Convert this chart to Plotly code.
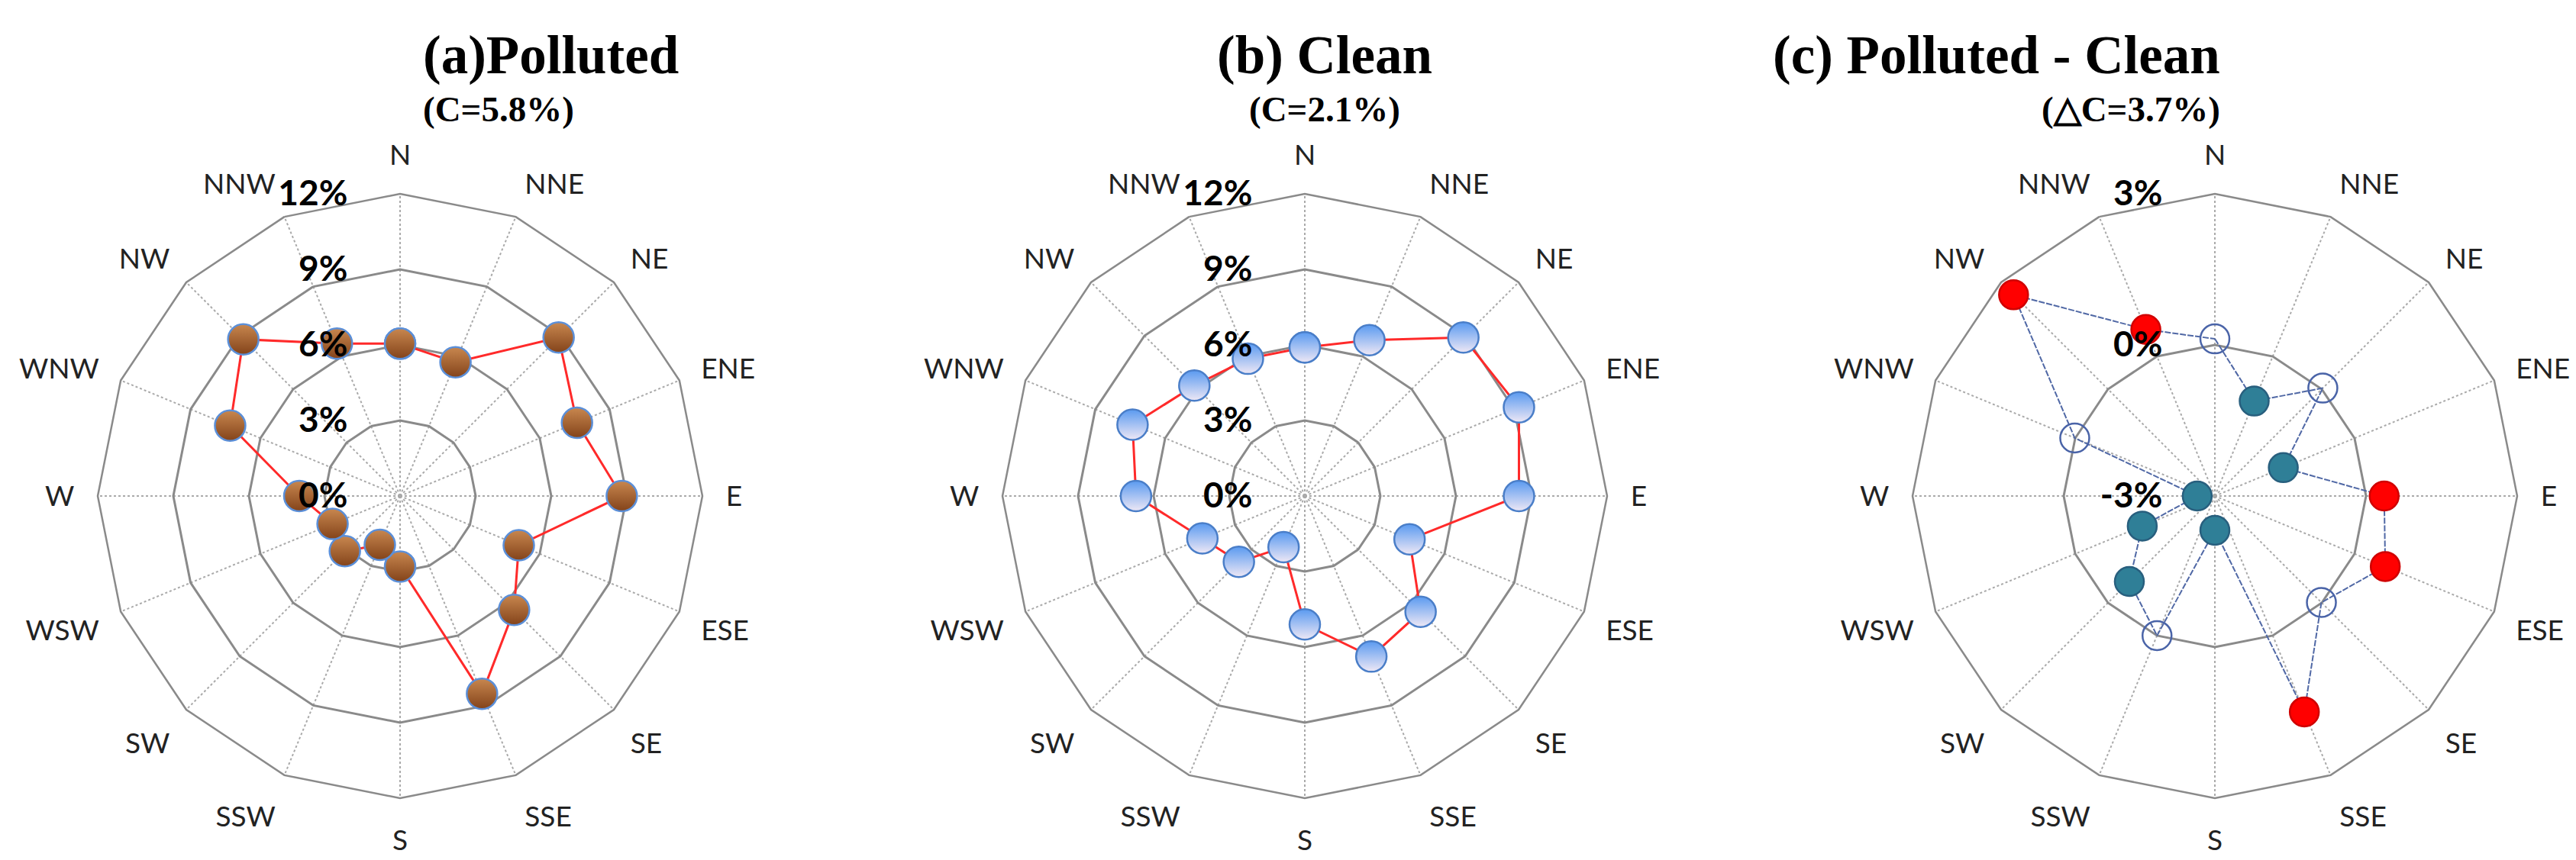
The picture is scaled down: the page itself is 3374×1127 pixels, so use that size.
import plotly.graph_objects as go

directions = ["N", "NNE", "NE", "ENE", "E", "ESE", "SE", "SSE",
              "S", "SSW", "SW", "WSW", "W", "WNW", "NW", "NNW"]

# frequency of each wind direction (%)
polluted = [6.05, 5.75, 8.9, 7.6, 8.8, 5.1, 6.4, 8.5,
            2.8, 2.1, 3.1, 2.9, 4.0, 7.3, 8.8, 6.55]
clean = [5.9, 6.7, 8.9, 9.2, 8.5, 4.5, 6.5, 6.9,
         5.1, 2.2, 3.7, 4.4, 6.7, 7.4, 6.2, 5.9]
diff = [0.12, -0.96, 0.03, -1.53, 0.36, 0.66, -0.01, 1.64,
        -2.32, 0.0, -0.6, -1.44, -2.65, 0.01, 2.65, 0.58]

ticks_ab = [0, 3, 6, 9, 12]
ticks_c = [-3, 0, 3]

titles = ["(a)Polluted", "(b) Clean", "(c) Polluted - Clean"]
subtitles = ["(C=5.8%)", "(C=2.1%)", "(△C=3.7%)"]

W, H = 3374, 1127
centers = [516, 1701, 2893]
title_x = [544, 1727, 2902]
cy, R = 642, 396


def closed(v):
    return list(v) + [v[0]]


# plotly hides points when a polygon-grid radial axis starts below zero,
# so panel (c) is drawn on an axis shifted to start at 0 and relabelled
base = ticks_c[0]
diff_shift = [v - base for v in diff]

fig = go.Figure()

fig.add_trace(go.Scatterpolar(
    r=closed(polluted), theta=closed(directions), subplot="polar",
    mode="lines+markers", line=dict(color="#ff2a2a", width=3),
    marker=dict(size=40, color="#c8874f",
                gradient=dict(type="vertical", color="#83431a"),
                line=dict(color="#5b8fd8", width=2.5)),
    showlegend=False))

fig.add_trace(go.Scatterpolar(
    r=closed(clean), theta=closed(directions), subplot="polar2",
    mode="lines+markers", line=dict(color="#ff2a2a", width=3),
    marker=dict(size=40, color="#5a9af0",
                gradient=dict(type="vertical", color="#efe8f5"),
                line=dict(color="#4a7ec8", width=2.5)),
    showlegend=False))

fig.add_trace(go.Scatterpolar(
    r=closed(diff_shift), theta=closed(directions), subplot="polar3",
    mode="lines", line=dict(color="#5068a5", width=2, dash="8px,2px"),
    showlegend=False))

# (c) markers: red = more frequent when polluted, teal = less, hollow = about equal
groups = [
    (lambda v: v > 0.2, "#ff0000", "#d00000"),
    (lambda v: v < -0.2, "#2f7f97", "#285f7e"),
    (lambda v: -0.2 <= v <= 0.2, "rgba(0,0,0,0)", "#4a64a8"),
]
for test, fill, edge in groups:
    rr = [s for v, s in zip(diff, diff_shift) if test(v)]
    tt = [d for d, v in zip(directions, diff) if test(v)]
    fig.add_trace(go.Scatterpolar(
        r=rr, theta=tt, subplot="polar3", mode="markers",
        marker=dict(size=38, color=fill, line=dict(color=edge, width=2.5)),
        showlegend=False))

angular = dict(categoryorder="array", categoryarray=directions,
               rotation=90, direction="clockwise",
               gridcolor="#aaaaaa", griddash="dot", gridwidth=2,
               linecolor="#8a8a8a", linewidth=2.5,
               ticks="outside", ticklen=22, tickcolor="rgba(0,0,0,0)",
               tickfont=dict(family="Lato", size=37, color="#222"))

radial_ticks = [ticks_ab, ticks_ab, [t - base for t in ticks_c]]
radial_text = [[f"{t}%" for t in ticks_ab]] * 2 + [[f"{t}%" for t in ticks_c]]

layout = dict(width=W, height=H, margin=dict(l=0, r=0, t=0, b=0),
              paper_bgcolor="white", plot_bgcolor="white")
for i, cx in enumerate(centers):
    key = "polar" if i == 0 else f"polar{i + 1}"
    layout[key] = dict(
        domain=dict(x=[(cx - R) / W, (cx + R) / W],
                    y=[(H - cy - R) / H, (H - cy + R) / H]),
        gridshape="linear", bgcolor="white",
        angularaxis=angular,
        radialaxis=dict(range=[radial_ticks[i][0], radial_ticks[i][-1]],
                        tickvals=radial_ticks[i], ticktext=radial_text[i],
                        angle=90, side="counterclockwise", showline=False,
                        ticks="outside", ticklen=52, tickcolor="rgba(0,0,0,0)",
                        tickangle=90, gridcolor="#8a8a8a", gridwidth=2.5,
                        tickfont=dict(family="Lato", size=46, color="black",
                                      weight="bold")))
fig.update_layout(**layout)

for i in range(3):
    fig.add_annotation(x=title_x[i] / W, y=1 - 65 / H, xref="paper", yref="paper",
                       yanchor="middle", text=f"<b>{titles[i]}</b>", showarrow=False,
                       font=dict(family="Liberation Serif", size=71, color="black"))
    fig.add_annotation(x=title_x[i] / W, y=1 - 135 / H, xref="paper", yref="paper",
                       yanchor="middle", text=f"<b>{subtitles[i]}</b>", showarrow=False,
                       font=dict(family="Liberation Serif", size=47, color="black"))

fig.write_html("out.html")
